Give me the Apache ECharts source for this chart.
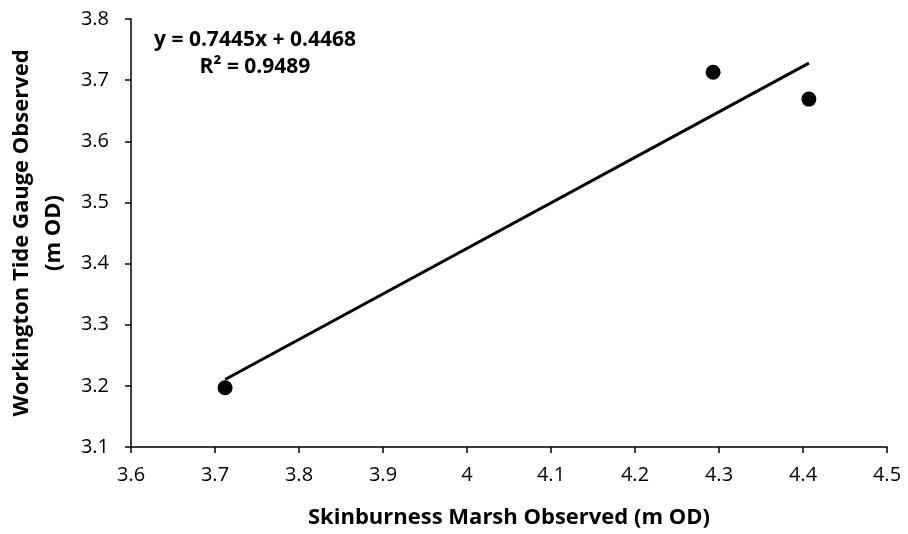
<!DOCTYPE html>
<html><head><meta charset="utf-8">
<script src="https://cdn.jsdelivr.net/npm/echarts@6/dist/echarts.min.js"></script>
<style>html,body{margin:0;padding:0;background:#fff}#c{width:908px;height:534px}</style>
</head><body><div id="c"></div>
<script>
const xValues = [3.712, 4.293, 4.407];
const yValues = [3.197, 3.713, 3.669];
const trendX = [3.712, 4.407];
const trendY = [3.2104, 3.7278];
const xTicks = ['3.6','3.7','3.8','3.9','4','4.1','4.2','4.3','4.4','4.5'];
const yTicks = ['3.1','3.2','3.3','3.4','3.5','3.6','3.7','3.8'];
const equationText = 'y = 0.7445x + 0.4468';
const r2Text = 'R² = 0.9489';
const xTitle = 'Skinburness Marsh Observed (m OD)';
const yTitle = 'Workington Tide Gauge Observed\n(m OD)';

const font = 'Open Sans';
const chart = echarts.init(document.getElementById('c'), null, {renderer:'canvas'});
chart.setOption({
  animation:false,
  backgroundColor:'#fff',
  grid:{left:131,right:21,top:19,bottom:87,containLabel:false,outerBoundsMode:'none'},
  xAxis:{type:'value',min:3.6,max:4.5,interval:0.1,
    axisLine:{show:true,onZero:false,lineStyle:{color:'#000',width:1.5}},
    axisTick:{show:true,length:6,lineStyle:{color:'#000',width:1.5}},
    splitLine:{show:false},
    axisLabel:{color:'#000',fontFamily:font,fontSize:20,margin:18,
      formatter:v=>{const i=Math.round((v-3.6)*10);return xTicks[i]!==undefined?xTicks[i]:'';}},
    name:xTitle,nameLocation:'middle',nameGap:60,
    nameTextStyle:{color:'#000',fontFamily:font,fontSize:22,fontWeight:'bold'}},
  yAxis:{type:'value',min:3.1,max:3.8,interval:0.1,
    axisLine:{show:true,onZero:false,lineStyle:{color:'#000',width:1.5}},
    axisTick:{show:true,length:6,lineStyle:{color:'#000',width:1.5}},
    splitLine:{show:false},
    axisLabel:{color:'#000',fontFamily:font,fontSize:20,margin:22,
      formatter:v=>{const i=Math.round((v-3.1)*10);return yTicks[i]!==undefined?yTicks[i]:'';}},
    name:yTitle,nameLocation:'middle',nameGap:55,nameRotate:90,
    nameTextStyle:{color:'#000',fontFamily:font,fontSize:22,fontWeight:'bold',lineHeight:32,align:'center'}},
  graphic:[
    {type:'text',x:255,y:40,style:{text:equationText,fill:'#000',font:'bold 21px "Open Sans"',textAlign:'center',textVerticalAlign:'middle'}},
    {type:'text',x:255,y:67,style:{text:r2Text,fill:'#000',font:'bold 21px "Open Sans"',textAlign:'center',textVerticalAlign:'middle'}}
  ],
  series:[
    {type:'line',data:trendX.map((x,i)=>[x,trendY[i]]),symbol:'none',
      lineStyle:{color:'#000',width:3},z:2},
    {type:'scatter',data:xValues.map((x,i)=>[x,yValues[i]]),symbol:'circle',symbolSize:15,
      itemStyle:{color:'#000',opacity:1},z:3}
  ]
});
</script></body></html>
